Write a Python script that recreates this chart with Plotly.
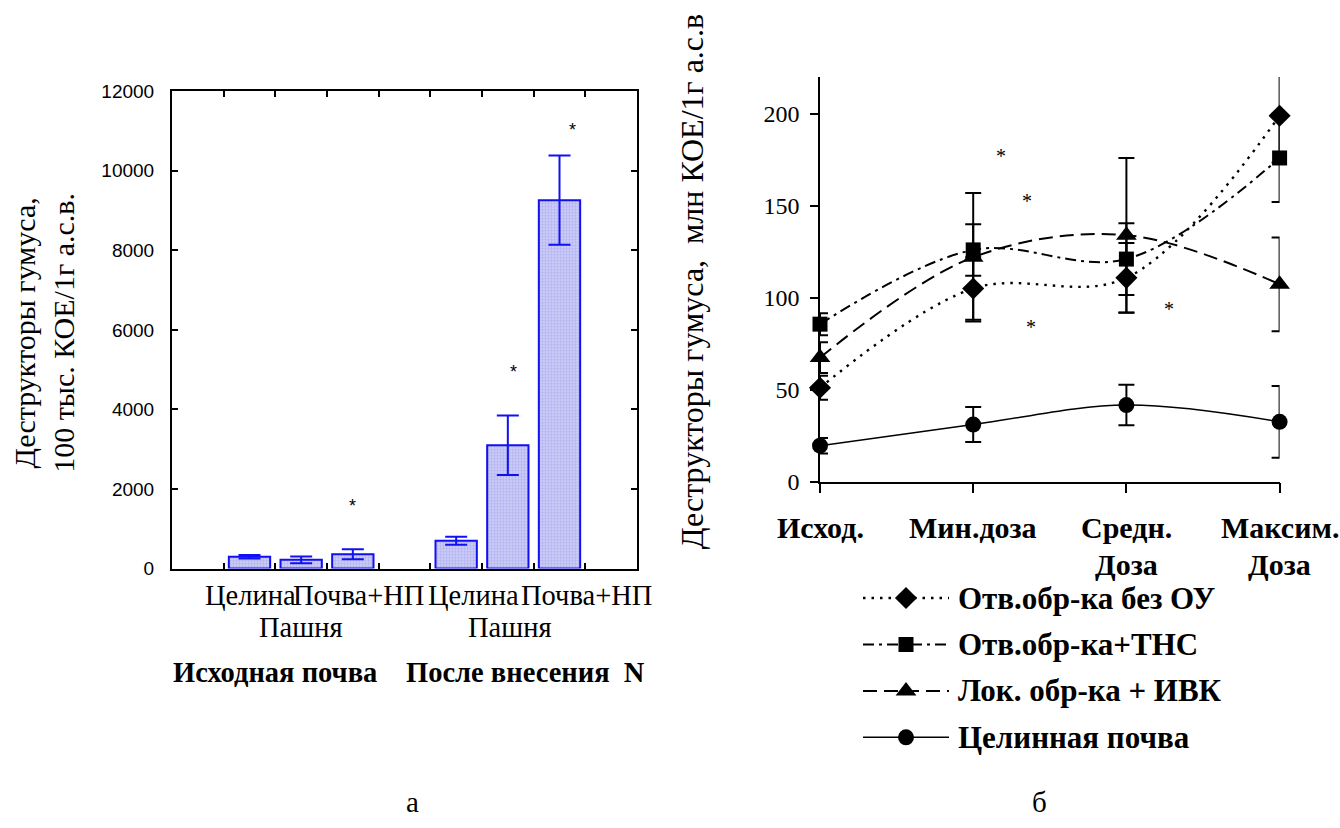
import plotly.graph_objects as go

W, H = 1340, 828
SERIF = "Liberation Serif"
SANS = "Liberation Sans"


def pxx(v):
    return v / W


def pxy(v):
    return 1 - v / H


# ---------------- panel "а": humus destructors, bar chart ----------------
bar_slots = [1, 2, 3, 5, 6, 7]
bar_values = [295, 220, 360, 700, 3100, 9260]
bar_errors = [45, 85, 125, 100, 750, 1120]
# category captions: (slot position, text) in two rows
label_row1_x = [1.01, 3.1, 5.33, 7.53]
label_row1_text = ["Целина", "Почва+НП", "Целина", "Почва+НП"]
label_row2_x = [2.0, 6.04]
label_row2_text = ["Пашня", "Пашня"]
group_labels = ["Исходная почва", "После внесения\u00a0 N"]
stars_a_x = [3.0, 6.1, 7.25]
stars_a_y = [1670, 5040, 11130]
yticks_a = [0, 2000, 4000, 6000, 8000, 10000, 12000]
yticktext_a = ["0", "2000", "4000", "6000", "8000", "10000", "12000"]

# ---------------- panel "б": dose response, line chart ----------------
doses = [0, 1, 2, 3]
dose_row1 = ["Исход.", "Мин.доза", "Средн.", "Максим."]
dose_row2 = ["", "", "Доза", "Доза"]
series_names = ["Отв.обр-ка без ОУ", "Отв.обр-ка+ТНС", "Лок. обр-ка + ИВК", "Целинная почва"]
vals_no_ou = [51, 105, 110.8, 199]
err_no_ou = [6.5, 17, 19, 25.5]
vals_tns = [85.6, 126, 121, 176]
err_tns = [6, 14, 19.5, 24]
vals_ivk = [67.4, 122, 134, 107.3]
err_ivk = [8.4, 35, 42, 25.5]
vals_virgin = [19.5, 31, 41.6, 32.5]
err_virgin = [4.2, 9.5, 11, 19.5]
stars_b_x = [1.18, 1.35, 1.38, 2.28, 2.82, 3.21]
stars_b_y = [180, 155.5, 87, 96.5, 222.5, 180]
yticks_b = [0, 50, 100, 150, 200]

series_vals = [vals_no_ou, vals_tns, vals_ivk, vals_virgin]
series_errs = [err_no_ou, err_tns, err_ivk, err_virgin]
series_symbols = ["diamond", "square", "triangle-up", "circle"]
series_sizes = [17, 15, 18, 16]
series_dash = ["2.5px,6px", "11px,5px,3px,5px", "14px,7px", "solid"]
series_width = [2.4, 2, 2, 1.5]

BLUE = "#1010f0"

fig = go.Figure()

# bars with error bars
fig.add_trace(go.Bar(
    x=bar_slots, y=bar_values, width=0.8,
    marker=dict(
        color="#c2c2f5",
        line=dict(color=BLUE, width=2),
        pattern=dict(shape=".", fgcolor="#9494ea", bgcolor="#d2d2f9", size=3, solidity=0.5),
    ),
    error_y=dict(type="data", array=bar_errors, visible=True, color=BLUE, thickness=2, width=11),
    xaxis="x", yaxis="y", showlegend=False,
))

# dose-response curves
for name, vals, errs, sym, size, dash, lw in zip(series_names, series_vals, series_errs,
                                                 series_symbols, series_sizes, series_dash, series_width):
    fig.add_trace(go.Scatter(
        x=doses, y=vals, name=name, mode="lines+markers",
        line=dict(color="black", width=lw, dash=dash, shape="spline", smoothing=1),
        marker=dict(symbol=sym, size=size, color="black"),
        error_y=dict(type="data", array=errs, visible=True, color="black", thickness=2, width=8),
        cliponaxis=False, xaxis="x2", yaxis="y2", showlegend=False,
    ))

# legend samples: a long line with the marker in the middle
for i, (sym, size, dash, lw) in enumerate(zip(series_symbols, series_sizes, series_dash, series_width)):
    fig.add_trace(go.Scatter(
        x=[0, 1], y=[i, i], mode="lines",
        line=dict(color="black", width=lw, dash=dash),
        xaxis="x3", yaxis="y3", showlegend=False, hoverinfo="skip",
    ))
    fig.add_trace(go.Scatter(
        x=[0.5], y=[i], mode="markers",
        marker=dict(symbol=sym, size=size, color="black"),
        xaxis="x3", yaxis="y3", showlegend=False, hoverinfo="skip", cliponaxis=False,
    ))

ann = []

# panel а: category labels in two rows, group labels, stars
for lx, txt in zip(label_row1_x, label_row1_text):
    ann.append(dict(x=lx, y=pxy(602), xref="x", yref="paper", text=txt, showarrow=False,
                    font=dict(family=SERIF, size=28.5, color="black"), xanchor="center", yanchor="middle"))
for lx, txt in zip(label_row2_x, label_row2_text):
    ann.append(dict(x=lx, y=pxy(635), xref="x", yref="paper", text=txt, showarrow=False,
                    font=dict(family=SERIF, size=28.5, color="black"), xanchor="center", yanchor="middle"))
for gx, txt in zip([275, 525], group_labels):
    ann.append(dict(x=pxx(gx), y=pxy(681), xref="paper", yref="paper", text="<b>%s</b>" % txt,
                    showarrow=False, font=dict(family=SERIF, size=28.5, color="black"),
                    xanchor="center", yanchor="middle"))
for sx, sy in zip(stars_a_x, stars_a_y):
    ann.append(dict(x=sx, y=sy, xref="x", yref="y", text="*", showarrow=False,
                    font=dict(family=SANS, size=18, color="black"), xanchor="center", yanchor="middle",
                    yshift=-4))

# panel а: y-axis title
ann.append(dict(x=pxx(44), y=pxy(332), xref="paper", yref="paper",
                text="Деструкторы гумуса,<br>100 тыс. КОЕ/1г а.с.в.", showarrow=False, textangle=-90,
                font=dict(family=SERIF, size=30, color="black"), xanchor="center", yanchor="middle"))

# panel б: dose labels
for d, t1, t2 in zip(doses, dose_row1, dose_row2):
    ann.append(dict(x=d, y=pxy(532), xref="x2", yref="paper", text="<b>%s</b>" % t1, showarrow=False,
                    font=dict(family=SERIF, size=30, color="black"), xanchor="center", yanchor="middle"))
    if t2:
        ann.append(dict(x=d, y=pxy(570), xref="x2", yref="paper", text="<b>%s</b>" % t2, showarrow=False,
                        font=dict(family=SERIF, size=30, color="black"), xanchor="center", yanchor="middle"))
for sx, sy in zip(stars_b_x, stars_b_y):
    ann.append(dict(x=sx, y=sy, xref="x2", yref="y2", text="*", showarrow=False,
                    font=dict(family=SERIF, size=20, color="black"), xanchor="center", yanchor="middle",
                    yshift=-5))

# panel б: y-axis title
ann.append(dict(x=pxx(692), y=pxy(280), xref="paper", yref="paper",
                text="Деструкторы гумуса,\u00a0 млн КОЕ/1г а.с.в", showarrow=False, textangle=-90,
                font=dict(family=SERIF, size=32, color="black"), xanchor="center", yanchor="middle"))

# panel б: legend texts
for i, name in enumerate(series_names):
    ann.append(dict(x=1, y=i, xref="x3", yref="y3", text="<b>%s</b>" % name, showarrow=False,
                    font=dict(family=SERIF, size=31, color="black"), xanchor="left", yanchor="middle",
                    xshift=7))

# panel captions
ann.append(dict(x=pxx(412), y=pxy(815), xref="paper", yref="paper", text="а", showarrow=False,
                font=dict(family=SERIF, size=29, color="black"), xanchor="center", yanchor="middle"))
ann.append(dict(x=pxx(1039), y=pxy(815), xref="paper", yref="paper", text="б", showarrow=False,
                font=dict(family=SERIF, size=29, color="black"), xanchor="center", yanchor="middle"))

fig.update_layout(
    width=W, height=H,
    margin=dict(l=0, r=0, t=0, b=0),
    paper_bgcolor="white", plot_bgcolor="white",
    showlegend=False,
    annotations=ann,
    xaxis=dict(domain=[pxx(172), pxx(637)], range=[-0.5, 8.5],
               tickvals=[k + 0.5 for k in range(8)], ticks="inside", ticklen=6, tickwidth=2,
               tickcolor="black", showticklabels=False, showline=True, linewidth=2, linecolor="black",
               mirror="ticks", showgrid=False, zeroline=False, anchor="y"),
    yaxis=dict(domain=[pxy(574.5), pxy(83.5)], range=[0, 12000], tickvals=yticks_a,
               ticktext=yticktext_a,
               ticks="inside", ticklen=6, tickwidth=2, tickcolor="black",
               tickfont=dict(family=SANS, size=19, color="black"), ticklabelstandoff=12,
               showline=True, linewidth=2, linecolor="black", mirror="ticks",
               showgrid=False, zeroline=False, anchor="x"),
    xaxis2=dict(domain=[pxx(820), pxx(1279.6)], range=[0, 3], tickvals=doses,
                ticks="outside", ticklen=10, tickwidth=1.5, tickcolor="black", showticklabels=False,
                showline=True, linewidth=1.5, linecolor="black", showgrid=False, zeroline=False,
                anchor="y2"),
    yaxis2=dict(domain=[pxy(485), pxy(69)], range=[0, 220], tickvals=yticks_b,
                ticks="outside", ticklen=8, tickwidth=1.5, tickcolor="black",
                tickfont=dict(family=SERIF, size=24, color="black"), ticklabelstandoff=6,
                showline=True, linewidth=1.5, linecolor="black", showgrid=False, zeroline=False,
                anchor="x2"),
    # inner halves of the crossing tick marks on panel б
    xaxis4=dict(overlaying="x2", range=[0, 3], tickvals=doses, ticks="inside", ticklen=10,
                tickwidth=1.5, tickcolor="black", showticklabels=False, showline=False,
                showgrid=False, zeroline=False, anchor="y2"),
    yaxis4=dict(overlaying="y2", range=[0, 220], tickvals=yticks_b, ticks="inside", ticklen=7,
                tickwidth=1.5, tickcolor="black", showticklabels=False, showline=False,
                showgrid=False, zeroline=False, anchor="x2"),
    xaxis3=dict(domain=[pxx(863), pxx(949)], range=[0, 1], visible=False, anchor="y3"),
    yaxis3=dict(domain=[pxy(772), pxy(581)], range=[3.5, -0.5], visible=False, anchor="x3"),
)

fig.write_html("out.html")
